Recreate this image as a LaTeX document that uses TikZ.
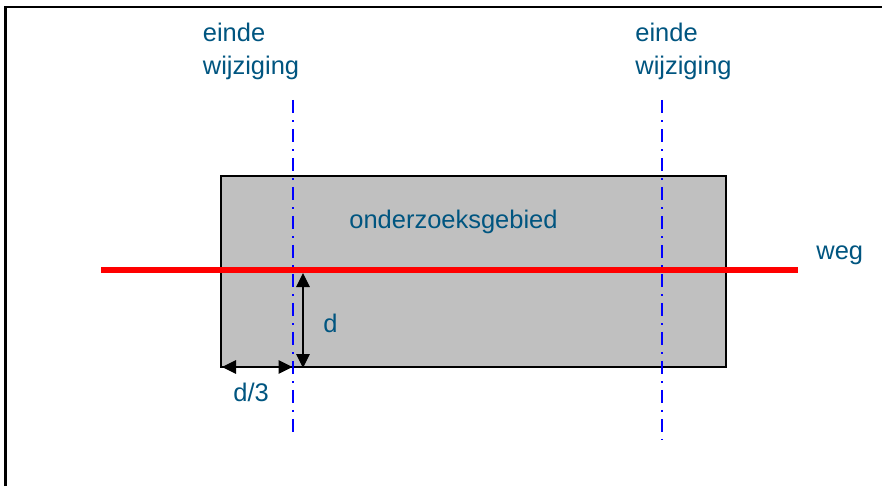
\documentclass[tikz,border=0pt]{standalone}
\usepackage{fontspec}
\setmainfont{Liberation Sans}
\usetikzlibrary{arrows.meta,positioning}
\definecolor{wgteal}{RGB}{0,85,128}
\definecolor{wggray}{RGB}{192,192,192}
\definecolor{wgblue}{RGB}{0,0,255}
\definecolor{wgred}{RGB}{255,0,0}
\tikzstyle{tekst} = [text=wgteal, font=\fontsize{14.5}{18.8}\selectfont, inner sep=0pt, anchor=base west, align=left]
\tikzstyle{gebied} = [rectangle, draw=black, fill=wggray, line width=0.85pt, minimum width=10.1cm, minimum height=3.82cm, inner sep=0pt]
\tikzstyle{grens} = [wgblue, line width=1.6pt, dash pattern=on 7.4pt off 4pt on 1.1pt off 4pt]
\tikzstyle{weglijn} = [wgred, line width=3.2pt]
\tikzstyle{maat} = [line width=0.7pt, {Triangle[length=2.8mm,width=2.7mm]}-{Triangle[length=2.8mm,width=2.7mm]}]

\begin{document}
\begin{tikzpicture}
\useasboundingbox (0,0) rectangle (17.64,9.72);
% Frame
\draw[line width=1.6pt] (0.11,0) -- (0.11,9.58) -- (17.64,9.58);

% Study area
\node[gebied] (gebied) at (9.47,4.29) {};
\node[tekst] (naam) at (6.98,5.16) {onderzoeksgebied};

% Ends of change
\coordinate (grensAtop) at (5.86,7.72);
\coordinate (grensAbot) at (5.86,0.96);
\coordinate (grensBtop) at (13.24,7.72);
\coordinate (grensBbot) at (13.24,0.92);
\draw[grens] (grensAtop) -- (grensAbot);
\draw[grens] (grensBtop) -- (grensBbot);
\node[tekst] (eindeA) at (4.05,8.22) {einde\\wijziging};
\node[tekst] (eindeB) at (12.70,8.22) {einde\\wijziging};

% Road
\coordinate (wegL) at (2.02,4.32);
\coordinate (wegR) at (15.96,4.32);
\draw[weglijn] (wegL) -- (wegR);
\node[tekst] (weg) at (16.32,4.54) {weg};

% Dimensions
\coordinate (dTop) at (6.06,4.26);
\coordinate (dBot) at (6.06,2.36);
\coordinate (dsL) at (4.44,2.38);
\coordinate (dsR) at (5.85,2.38);
\draw[maat] (dTop) -- (dBot);
\draw[maat] (dsL) -- (dsR);
\node[tekst] (dlabel) at (6.46,3.08) {d};
\node[tekst] (dslabel) at (4.66,1.70) {d/3};
\end{tikzpicture}
\end{document}
